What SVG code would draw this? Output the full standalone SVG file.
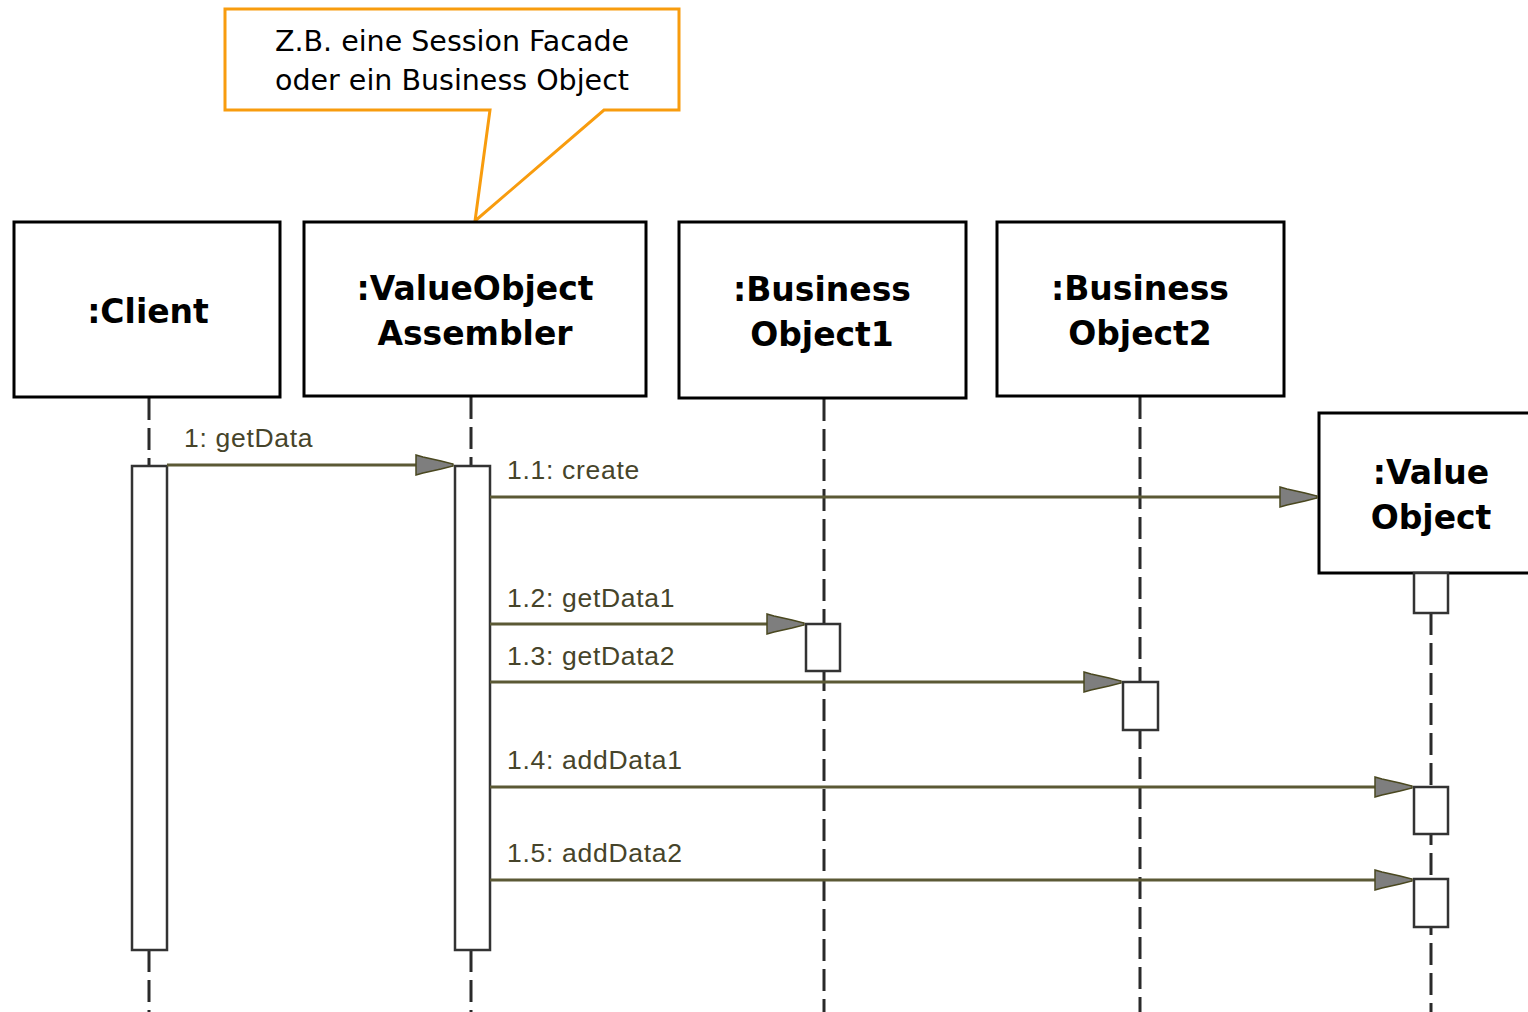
<svg xmlns="http://www.w3.org/2000/svg" width="1528" height="1012" viewBox="0 0 1528 1012">
<style>
.obj{fill:#fff;stroke:#000;stroke-width:3}
.ttl{font-family:"DejaVu Sans",Verdana,sans-serif;font-weight:bold;font-size:33px;text-anchor:middle;fill:#000}
.life{stroke:#2a2a2a;stroke-width:3;stroke-dasharray:22 8;fill:none}
.act{fill:#fff;stroke:#333;stroke-width:2.5}
.msg{stroke:#5b5935;stroke-width:3;fill:none;marker-end:url(#ah)}
.lbl{font-family:"Liberation Sans",Arial,sans-serif;font-size:26.5px;letter-spacing:0.7px;fill:#46442a}
.note{fill:#fff;stroke:#f89c0e;stroke-width:3}
.ntxt{font-family:"DejaVu Sans",Verdana,sans-serif;font-size:28.5px;text-anchor:middle;fill:#000}
</style>
<defs>
<marker id="ah" markerUnits="userSpaceOnUse" markerWidth="40" markerHeight="24" refX="38" refY="12" orient="auto" viewBox="0 0 40 24">
<path d="M1,2 L8,4 L26,8 L38,11 L38,13 L26,16 L8,20 L1,22 Z" fill="#7e7e7e" stroke="#4a4820" stroke-width="1.5"/>
</marker>
</defs>
<g id="note">
<path class="note" d="M225,9 H679 V110 H604 L475,221 L490,110 H225 Z"/>
<text class="ntxt" x="452" y="51">Z.B. eine Session Facade</text>
<text class="ntxt" x="452" y="90">oder ein Business Object</text>
</g>
<g id="lifelines">
<line class="life" x1="149" y1="398" x2="149" y2="466"/>
<line class="life" x1="149" y1="950" x2="149" y2="1012"/>
<line class="life" x1="471" y1="397" x2="471" y2="466"/>
<line class="life" x1="471" y1="950" x2="471" y2="1012"/>
<line class="life" x1="824" y1="399" x2="824" y2="1012"/>
<line class="life" x1="1140" y1="397" x2="1140" y2="1012"/>
<line class="life" x1="1431" y1="613" x2="1431" y2="1012"/>
</g>
<g id="client">
<rect class="obj" x="14" y="222" width="266" height="175"/>
<text class="ttl" x="148" y="323">:Client</text>
<rect class="act" x="132" y="466" width="35" height="484"/>
</g>
<g id="assembler">
<rect class="obj" x="304" y="222" width="342" height="174"/>
<text class="ttl" x="475" y="300">:ValueObject</text>
<text class="ttl" x="475" y="345">Assembler</text>
<rect class="act" x="455" y="466" width="35" height="484"/>
</g>
<g id="bo1">
<rect class="obj" x="679" y="222" width="287" height="176"/>
<text class="ttl" x="822" y="301">:Business</text>
<text class="ttl" x="822" y="346">Object1</text>
<rect class="act" x="806" y="624" width="34" height="47"/>
</g>
<g id="bo2">
<rect class="obj" x="997" y="222" width="287" height="174"/>
<text class="ttl" x="1140" y="300">:Business</text>
<text class="ttl" x="1140" y="345">Object2</text>
<rect class="act" x="1123" y="682" width="35" height="48"/>
</g>
<g id="valueobject">
<rect class="obj" x="1319" y="413" width="220" height="160"/>
<text class="ttl" x="1431" y="484">:Value</text>
<text class="ttl" x="1431" y="529">Object</text>
<rect class="act" x="1414" y="573" width="34" height="40"/>
<rect class="act" x="1414" y="787" width="34" height="47"/>
<rect class="act" x="1414" y="879" width="34" height="48"/>
</g>
<g id="connectors">
<line class="msg" x1="167" y1="465" x2="453" y2="465"/>
<line class="msg" x1="490" y1="497" x2="1317" y2="497"/>
<line class="msg" x1="490" y1="624" x2="804" y2="624"/>
<line class="msg" x1="490" y1="682" x2="1121" y2="682"/>
<line class="msg" x1="490" y1="787" x2="1412" y2="787"/>
<line class="msg" x1="490" y1="880" x2="1412" y2="880"/>
<text class="lbl" x="184" y="447">1: getData</text>
<text class="lbl" x="507" y="479">1.1: create</text>
<text class="lbl" x="507" y="607">1.2: getData1</text>
<text class="lbl" x="507" y="665">1.3: getData2</text>
<text class="lbl" x="507" y="769">1.4: addData1</text>
<text class="lbl" x="507" y="862">1.5: addData2</text>
</g>
</svg>
